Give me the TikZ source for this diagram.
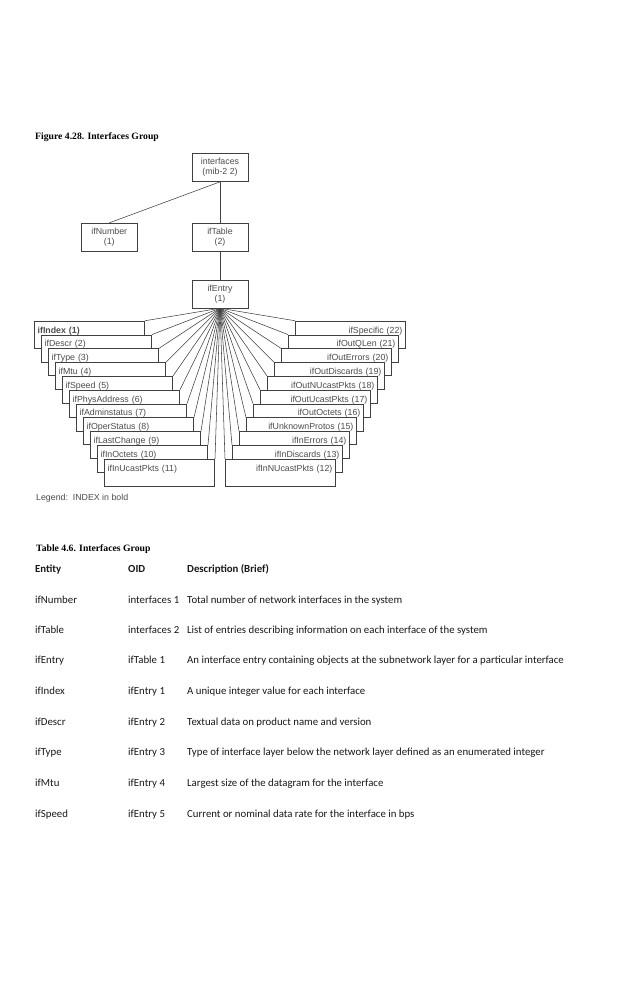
\documentclass[tikz,border=0pt]{standalone}
\usepackage{fontspec}
\setmainfont{Liberation Serif}
\newfontfamily\diafont{Liberation Sans}
\newfontfamily\tabfont{Carlito}
\usetikzlibrary{positioning}

\begin{document}
\begin{tikzpicture}[x=1pt,y=-1pt]
  \tikzstyle{box}=[draw=black!75,fill=white,line width=0.7pt,minimum width=56pt,minimum height=28pt,inner sep=1pt,align=center,font=\diafont\fontsize{8.8}{10}\selectfont,text=black!70]
  \tikzstyle{lbox}=[draw=black!75,fill=white,line width=0.7pt,inner xsep=3pt,inner ysep=0pt,text width=104pt,text height=12pt,text depth=15pt,align=left,font=\diafont\fontsize{8.8}{10}\selectfont,text=black!70]
  \tikzstyle{rbox}=[lbox,align=right]
  \tikzstyle{link}=[draw=black!75,line width=0.55pt]
  \tikzstyle{cell}=[anchor=base west,inner sep=0pt,font=\tabfont\fontsize{10.8}{13}\selectfont,text=black!90]
  \tikzstyle{head}=[cell,font=\tabfont\bfseries\fontsize{10.8}{13}\selectfont]
  \useasboundingbox[fill=white] (0,0) rectangle (638,983);

  \node[anchor=base west,inner sep=0pt,font=\bfseries\fontsize{9.7}{11}\selectfont] (figtitle) at (35,139) {Figure 4.28. Interfaces Group};

  % tree
  \node[box] (interfaces) at (220,167.5) {interfaces\\(mib-2 2)};
  \node[box,below=41pt of interfaces] (iftable) {ifTable\\(2)};
  \node[box,left=54pt of iftable] (ifnumber) {ifNumber\\(1)};
  \node[box,below=28pt of iftable] (ifentry) {ifEntry\\(1)};
  \draw[link] (interfaces.south) -- (ifnumber.north);
  \draw[link] (interfaces) -- (iftable);
  \draw[link] (iftable) -- (ifentry);

  % left stairs
  \node[lbox,below left=12.5pt and 75pt of ifentry.south] (ifindex) {\textbf{ifIndex (1)}};
  \node[lbox,below right=13.8pt and 7pt of ifindex.north west] (ifdescr) {ifDescr (2)};
  \node[lbox,below right=13.8pt and 7pt of ifdescr.north west] (iftype) {ifType (3)};
  \node[lbox,below right=13.8pt and 7pt of iftype.north west] (ifmtu) {ifMtu (4)};
  \node[lbox,below right=13.8pt and 7pt of ifmtu.north west] (ifspeed) {ifSpeed (5)};
  \node[lbox,below right=13.8pt and 7pt of ifspeed.north west] (ifphys) {ifPhysAddress (6)};
  \node[lbox,below right=13.8pt and 7pt of ifphys.north west] (ifadmin) {ifAdminstatus (7)};
  \node[lbox,below right=13.8pt and 7pt of ifadmin.north west] (ifoper) {ifOperStatus (8)};
  \node[lbox,below right=13.8pt and 7pt of ifoper.north west] (iflast) {ifLastChange (9)};
  \node[lbox,below right=13.8pt and 7pt of iflast.north west] (ifinoct) {ifInOctets (10)};
  \node[lbox,below right=13.8pt and 7pt of ifinoct.north west] (ifinucast) {ifInUcastPkts (11)};

  % right stairs
  \node[rbox,below right=12.5pt and 75pt of ifentry.south] (ifspecific) {ifSpecific (22)};
  \node[rbox,below left=13.8pt and 7pt of ifspecific.north east] (ifoutqlen) {ifOutQLen (21)};
  \node[rbox,below left=13.8pt and 7pt of ifoutqlen.north east] (ifouterr) {ifOutErrors (20)};
  \node[rbox,below left=13.8pt and 7pt of ifouterr.north east] (ifoutdisc) {ifOutDiscards (19)};
  \node[rbox,below left=13.8pt and 7pt of ifoutdisc.north east] (ifoutnucast) {ifOutNUcastPkts (18)};
  \node[rbox,below left=13.8pt and 7pt of ifoutnucast.north east] (ifoutucast) {ifOutUcastPkts (17)};
  \node[rbox,below left=13.8pt and 7pt of ifoutucast.north east] (ifoutoct) {ifOutOctets (16)};
  \node[rbox,below left=13.8pt and 7pt of ifoutoct.north east] (ifunknown) {ifUnknownProtos (15)};
  \node[rbox,below left=13.8pt and 7pt of ifunknown.north east] (ifinerr) {ifInErrors (14)};
  \node[rbox,below left=13.8pt and 7pt of ifinerr.north east] (ifindisc) {ifInDiscards (13)};
  \node[rbox,below left=13.8pt and 7pt of ifindisc.north east] (ifinnucast) {ifInNUcastPkts (12)};

  % fan out of ifEntry
  \draw[link] (ifentry.south) -- (ifindex.north east);
  \draw[link] (ifentry.south) -- (ifdescr.north east);
  \draw[link] (ifentry.south) -- (iftype.north east);
  \draw[link] (ifentry.south) -- (ifmtu.north east);
  \draw[link] (ifentry.south) -- (ifspeed.north east);
  \draw[link] (ifentry.south) -- (ifphys.north east);
  \draw[link] (ifentry.south) -- (ifadmin.north east);
  \draw[link] (ifentry.south) -- (ifoper.north east);
  \draw[link] (ifentry.south) -- (iflast.north east);
  \draw[link] (ifentry.south) -- (ifinoct.north east);
  \draw[link] (ifentry.south) -- (ifinucast.north east);
  \draw[link] (ifentry.south) -- (ifspecific.north west);
  \draw[link] (ifentry.south) -- (ifoutqlen.north west);
  \draw[link] (ifentry.south) -- (ifouterr.north west);
  \draw[link] (ifentry.south) -- (ifoutdisc.north west);
  \draw[link] (ifentry.south) -- (ifoutnucast.north west);
  \draw[link] (ifentry.south) -- (ifoutucast.north west);
  \draw[link] (ifentry.south) -- (ifoutoct.north west);
  \draw[link] (ifentry.south) -- (ifunknown.north west);
  \draw[link] (ifentry.south) -- (ifinerr.north west);
  \draw[link] (ifentry.south) -- (ifindisc.north west);
  \draw[link] (ifentry.south) -- (ifinnucast.north west);

  \node[anchor=base west,inner sep=0pt,font=\diafont\fontsize{8.8}{10}\selectfont,text=black!70] (legend) at (36,500.5) {Legend:\ \ INDEX in bold};

  % table
  \node[anchor=base west,inner sep=0pt,font=\bfseries\fontsize{9.7}{11}\selectfont] (tabtitle) at (36,551.5) {Table 4.6. Interfaces Group};
  \node[head] (hentity) at (35,572.3) {Entity};
  \node[head] (hoid) at (128,572.3) {OID};
  \node[head] (hdesc) at (187,572.3) {Description (Brief)};

  \node[cell] (enumber) at (35,603.3) {ifNumber};
  \node[cell] (onumber) at (128,603.3) {interfaces 1};
  \node[cell] (dnumber) at (187,603.3) {Total number of network interfaces in the system};

  \node[cell] (etable) at (35,633.3) {ifTable};
  \node[cell] (otable) at (128,633.3) {interfaces 2};
  \node[cell] (dtable) at (187,633.3) {List of entries describing information on each interface of the system};

  \node[cell] (eentry) at (35,663.8) {ifEntry};
  \node[cell] (oentry) at (128,663.8) {ifTable 1};
  \node[cell] (dentry) at (187,663.8) {An interface entry containing objects at the subnetwork layer for a particular interface};

  \node[cell] (eindex) at (35,694.3) {ifIndex};
  \node[cell] (oindex) at (128,694.3) {ifEntry 1};
  \node[cell] (dindex) at (187,694.3) {A unique integer value for each interface};

  \node[cell] (edescr) at (35,725) {ifDescr};
  \node[cell] (odescr) at (128,725) {ifEntry 2};
  \node[cell] (ddescr) at (187,725) {Textual data on product name and version};

  \node[cell] (etype) at (35,755.6) {ifType};
  \node[cell] (otype) at (128,755.6) {ifEntry 3};
  \node[cell] (dtype) at (187,755.6) {Type of interface layer below the network layer defined as an enumerated integer};

  \node[cell] (emtu) at (35,786.6) {ifMtu};
  \node[cell] (omtu) at (128,786.6) {ifEntry 4};
  \node[cell] (dmtu) at (187,786.6) {Largest size of the datagram for the interface};

  \node[cell] (espeed) at (35,817.3) {ifSpeed};
  \node[cell] (ospeed) at (128,817.3) {ifEntry 5};
  \node[cell] (dspeed) at (187,817.3) {Current or nominal data rate for the interface in bps};
\end{tikzpicture}
\end{document}
